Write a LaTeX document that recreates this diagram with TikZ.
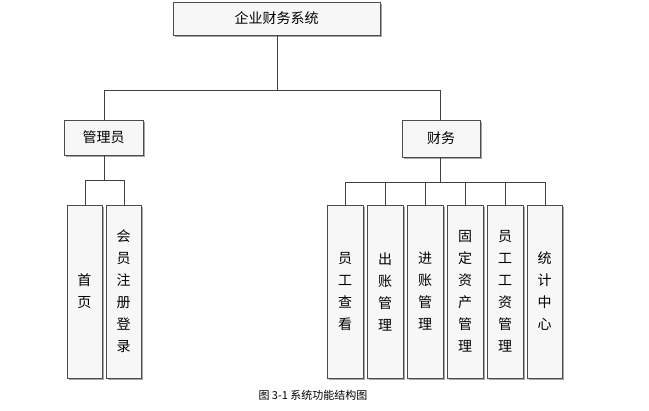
\documentclass[tikz,border=0pt]{standalone}
\usepackage{fontspec}
\usetikzlibrary{shadows}
\newfontfamily\cjk{Noto Sans CJK SC}
\begin{document}
\begin{tikzpicture}[x=1pt,y=-1pt,
  box/.style={draw=black!70,fill=black!3,line width=0.6pt,drop shadow={shadow xshift=2pt,shadow yshift=-2pt,fill=black!35,opacity=1}},
  lbl/.style={font=\cjk\fontsize{14}{22}\selectfont,align=center},
  ln/.style={draw=black!75,line width=0.6pt}]
\useasboundingbox (0,0) rectangle (649,411);
% boxes
\newcommand\mybox[6]{\draw[box] (#1,#2) rectangle (#3,#4); \node[lbl] (#5) at ({(#1+#3)/2},{(#2+#4)/2}) {#6};}
\mybox{173}{2}{380}{35}{top}{企业财务系统}
\mybox{64}{120}{143}{155}{gly}{管理员}
\mybox{402}{120}{480}{157}{cw}{财务}
\mybox{67}{205}{102}{378}{a1}{首\\页}
\mybox{106}{205}{141}{378}{a2}{会\\员\\注\\册\\登\\录}
\mybox{327}{205}{363}{378}{b1}{员\\工\\查\\看}
\mybox{367}{205}{403}{378}{b2}{出\\账\\管\\理}
\mybox{407}{205}{443}{378}{b3}{进\\账\\管\\理}
\mybox{447}{205}{483}{378}{b4}{固\\定\\资\\产\\管\\理}
\mybox{487}{205}{523}{378}{b5}{员\\工\\工\\资\\管\\理}
\mybox{527}{205}{562}{378}{b6}{统\\计\\中\\心}
% connectors
\draw[ln] (277,35) -- (277,90);
\draw[ln] (104,90) -- (440,90);
\draw[ln] (104,90) -- (104,120);
\draw[ln] (440,90) -- (440,120);
\draw[ln] (104,155) -- (104,180);
\draw[ln] (85,180) -- (124,180);
\draw[ln] (85,180) -- (85,205);
\draw[ln] (124,180) -- (124,205);
\draw[ln] (440,157) -- (440,182);
\draw[ln] (345,182) -- (545,182);
\foreach \x in {345,385,425,465,505,545} \draw[ln] (\x,182) -- (\x,205);
\node[font=\cjk\fontsize{11}{13}\selectfont] (cap) at (313,395) {图 3-1 系统功能结构图};
\end{tikzpicture}
\end{document}
